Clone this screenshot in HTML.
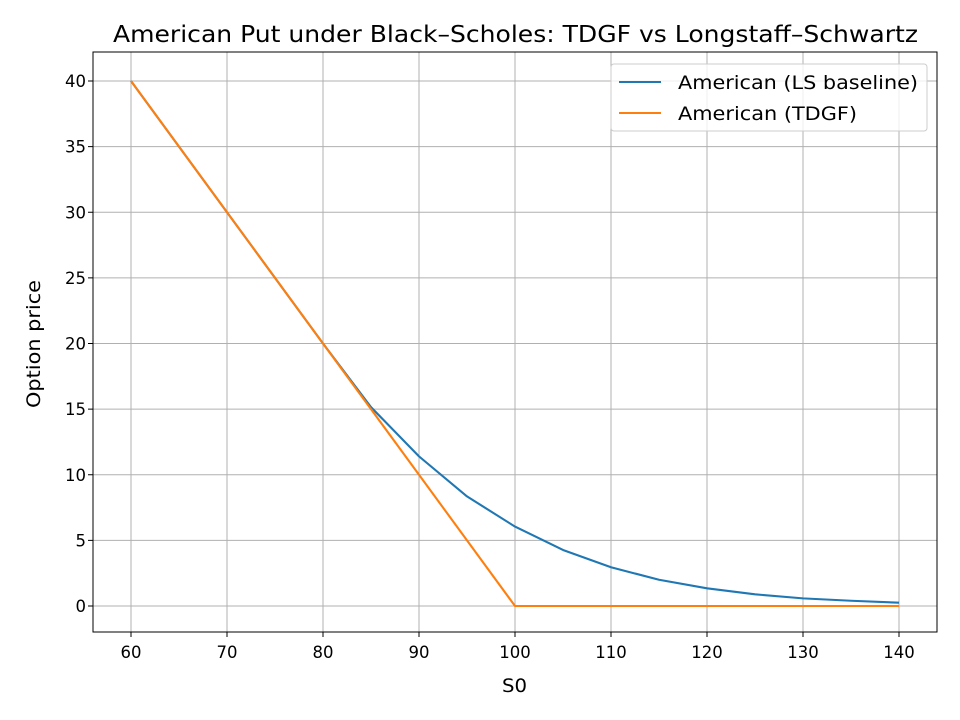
<!DOCTYPE html>
<html><head><meta charset="utf-8"><style>
html,body{margin:0;padding:0;background:#fff;}
svg{display:block;font-family:"DejaVu Sans","Liberation Sans",sans-serif;}
</style></head><body>
<svg id="chart" width="960" height="720" viewBox="0 0 960 720">
<rect x="0" y="0" width="960" height="720" fill="#fff"/>
<g id="grid"></g>
<g id="series"></g>
<g id="ticks"></g>
<rect x="93" y="52" width="844" height="580" fill="none" stroke="#000" stroke-width="1"/>
<text x="113" y="42" font-size="23.5" textLength="805" lengthAdjust="spacingAndGlyphs" fill="#000">American Put under Black–Scholes: TDGF vs Longstaff–Schwartz</text>
<text x="502" y="692" font-size="19" textLength="25" lengthAdjust="spacingAndGlyphs" fill="#000">S0</text>
<text x="40" y="408" font-size="19" textLength="128" lengthAdjust="spacingAndGlyphs" fill="#000" transform="rotate(-90 40 408)">Option price</text>
<g>
<rect x="611" y="64" width="316" height="67" rx="3" fill="#fff" fill-opacity="0.8" stroke="#ccc"/>
<line x1="619" y1="82" x2="661" y2="82" stroke="#1f77b4" stroke-width="2.1"/>
<text x="678" y="89" font-size="19" textLength="240" lengthAdjust="spacingAndGlyphs">American (LS baseline)</text>
<line x1="619" y1="113" x2="661" y2="113" stroke="#ff7f0e" stroke-width="2.1"/>
<text x="678" y="120" font-size="19" textLength="179" lengthAdjust="spacingAndGlyphs">American (TDGF)</text>
</g>
</svg>
<script>
const spots=[60,65,70,75,80,85,90,95,100,105,110,115,120,125,130,135,140];
const lsValues=[40,35,30,25,20,15.15,11.4,8.35,6.05,4.27,2.95,2.0,1.35,0.89,0.58,0.4,0.25];
const tdgfValues=[40,35,30,25,20,15,10,5,0,0,0,0,0,0,0,0,0];
const xTicks=[60,70,80,90,100,110,120,130,140];
const yTicks=[0,5,10,15,20,25,30,35,40];
const NS='http://www.w3.org/2000/svg';
function xs(v){return 131+(v-60)*9.6;}
function ys(v){return 606-v*13.125;}
function mk(t,a,p){const e=document.createElementNS(NS,t);for(const k in a)e.setAttribute(k,a[k]);p.appendChild(e);return e;}
const grid=document.getElementById('grid'),ticks=document.getElementById('ticks'),ser=document.getElementById('series');
xTicks.forEach(v=>{
 const g=mk('line',{x1:xs(v),x2:xs(v),y1:52,y2:632,stroke:'#b0b0b0','stroke-width':1},grid);
 
 
 mk('line',{x1:xs(v),x2:xs(v),y1:632,y2:637,stroke:'#000'},ticks);
 const t=mk('text',{x:xs(v),y:658,'text-anchor':'middle','font-size':16.5},ticks);
 t.textContent=v;
 
 
});
yTicks.forEach(v=>{
 const g=mk('line',{x1:93,x2:937,y1:ys(v),y2:ys(v),stroke:'#b0b0b0','stroke-width':1},grid);
 
 
 mk('line',{x1:88,x2:93,y1:ys(v),y2:ys(v),stroke:'#000'},ticks);
 const t=mk('text',{x:86,y:ys(v)+6,'text-anchor':'end','font-size':16.5},ticks);
 t.textContent=v;
 
 
});
function line(vals,color,name){
 const p=mk('polyline',{points:spots.map((s,i)=>xs(s)+','+ys(vals[i])).join(' '),fill:'none',stroke:color,'stroke-width':2.1,'stroke-linejoin':'round'},ser);
 
 
}
line(lsValues,'#1f77b4','ls-baseline-line');
line(tdgfValues,'#ff7f0e','tdgf-line');
</script>
</body></html>
